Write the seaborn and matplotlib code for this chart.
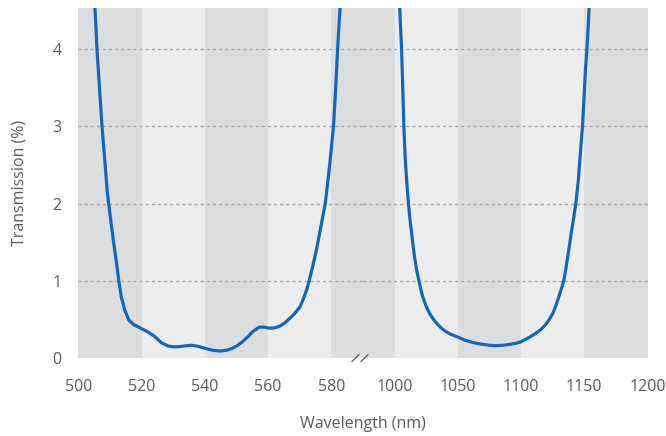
import matplotlib.pyplot as plt
import seaborn as sns
from matplotlib.lines import Line2D

# transmission readings, visible band (left) and NIR band (right)
left_wl = [505.0, 505.5, 505.9, 506.7, 507.5, 508.5, 509.1, 509.6, 510.4, 511.2,
           512.1, 512.8, 513.6, 514.7, 516.0, 517.6, 519.8, 521.9, 524.1, 526.2,
           528.4, 530.0, 531.6, 533.5, 535.8, 538.0, 540.1, 542.5, 544.9, 546.8,
           548.7, 550.3, 551.9, 553.5, 555.1, 557.2, 558.8, 560.4, 562.0, 563.6,
           565.2, 566.8, 568.5, 570.1, 571.2, 572.2, 573.0, 574.2, 575.4, 576.7,
           578.1, 579.5, 580.7, 581.4, 582.0, 582.5, 583.1]
left_t = [4.75, 4.35, 4.0, 3.5, 3.0, 2.5, 2.18, 2.0, 1.74, 1.49,
          1.23, 1.0, 0.79, 0.62, 0.49, 0.43, 0.385, 0.34, 0.28, 0.20,
          0.155, 0.145, 0.145, 0.155, 0.165, 0.15, 0.125, 0.10, 0.09, 0.10,
          0.125, 0.16, 0.21, 0.27, 0.34, 0.40, 0.40, 0.385, 0.39, 0.41,
          0.45, 0.51, 0.58, 0.66, 0.77, 0.88, 1.0, 1.2, 1.42, 1.7,
          2.0, 2.5, 3.0, 3.5, 4.0, 4.35, 4.75]

right_wl = [1003.6, 1004.6, 1005.6, 1006.5, 1007.4, 1008.4, 1009.6, 1011.0, 1012.0, 1013.2,
            1014.5, 1015.8, 1017.5, 1019.3, 1020.8, 1022.4, 1025.0, 1027.6, 1030.8, 1034.3,
            1037.5, 1040.8, 1044.7, 1048.7, 1055.3, 1062.0, 1068.5, 1075.0, 1080.0, 1086.0,
            1092.0, 1096.0, 1100.0, 1104.0, 1107.9, 1111.8, 1115.8, 1119.3, 1122.4, 1125.2,
            1127.6, 1129.8, 1131.8, 1133.8, 1135.4, 1136.9, 1138.4, 1139.8, 1141.7, 1143.3,
            1145.3, 1146.9, 1148.6, 1149.9, 1151.0, 1152.1, 1153.3, 1154.5]
right_t = [4.75, 4.35, 4.0, 3.5, 3.0, 2.6, 2.3, 2.0, 1.83, 1.66,
           1.48, 1.31, 1.14, 1.0, 0.89, 0.79, 0.67, 0.58, 0.50, 0.43,
           0.38, 0.34, 0.305, 0.28, 0.233, 0.20, 0.18, 0.165, 0.16, 0.165,
           0.18, 0.19, 0.21, 0.245, 0.28, 0.32, 0.37, 0.43, 0.50, 0.58,
           0.68, 0.79, 0.89, 1.0, 1.15, 1.31, 1.47, 1.63, 1.82, 2.0,
           2.3, 2.65, 3.0, 3.4, 3.75, 4.0, 4.35, 4.75]

left_ticks = [500, 520, 540, 560, 580]
right_ticks = [1000, 1050, 1100, 1150, 1200]
y_ticks = [0, 1, 2, 3, 4]

sns.set_style('white')
plt.rcParams['font.family'] = ['Open Sans', 'DejaVu Sans']

W, H = 666, 436
fig = plt.figure(figsize=(W / 100, H / 100), dpi=100)
x0, x1, y_bot, y_top = 78.3, 647.5, 358, 8.3
half = (x1 - x0) / 2
ax1 = fig.add_axes([x0 / W, 1 - y_bot / H, half / W, (y_bot - y_top) / H])
ax2 = fig.add_axes([(x0 + half) / W, 1 - y_bot / H, half / W, (y_bot - y_top) / H])

dark, light = '#dcdddf', '#ebeceb'
text_c = '#5a5a5a'
line_c = '#1366b8'

left_edges = left_ticks + [590]
right_edges = [975] + right_ticks
for i in range(len(left_edges) - 1):
    ax1.axvspan(left_edges[i], left_edges[i + 1], color=dark if i % 2 == 0 else light, lw=0, zorder=0)
for i in range(len(right_edges) - 1):
    ax2.axvspan(right_edges[i], right_edges[i + 1], color=dark if i % 2 == 0 else light, lw=0, zorder=0)

for ax in (ax1, ax2):
    for y in y_ticks[1:]:
        ax.axhline(y, color='#a9a9a9', lw=1, ls=(0, (2.2, 2.2)), zorder=1)
    ax.set_ylim(0, 4.53)
    ax.set_facecolor('white')
    for s in ax.spines.values():
        s.set_visible(False)
    ax.tick_params(length=0, labelsize=11.5, labelcolor=text_c)
    ax.tick_params(axis='x', pad=15)

sns.lineplot(x=left_wl, y=left_t, ax=ax1, color=line_c, lw=2.3, zorder=3)
sns.lineplot(x=right_wl, y=right_t, ax=ax2, color=line_c, lw=2.3, zorder=3)

ax1.set_xlim(500, 590)
ax2.set_xlim(975, 1200)
ax1.set_xticks(left_ticks)
ax2.set_xticks(right_ticks)
ax1.set_yticks(y_ticks)
ax1.tick_params(axis='y', pad=12)
ax2.set_yticks([])

ax1.set_ylabel('Transmission (%)', fontsize=11.5, color=text_c)
ax1.yaxis.set_label_coords((28 - x0) / half, 0.5)
fig.text((x0 + half) / W, 1 - 424 / H, 'Wavelength (nm)', ha='center', va='center',
         fontsize=11.5, color=text_c)

# break marks
for bx in (352, 361):
    fig.add_artist(Line2D([bx / W, (bx + 7) / W], [1 - 361.5 / H, 1 - 354.5 / H],
                          color='#666666', lw=1, transform=fig.transFigure))

fig.savefig('out.png', dpi=100)
